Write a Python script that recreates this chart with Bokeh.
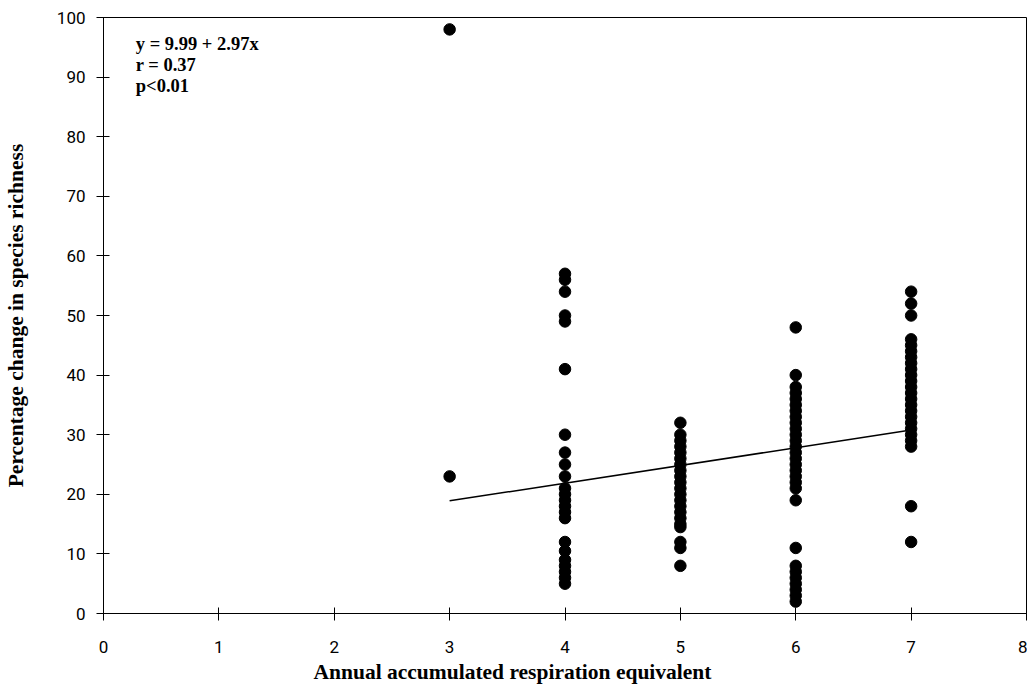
import numpy as np
from bokeh.plotting import figure
from bokeh.models import Range1d, Label, FixedTicker, ColumnDataSource, Title
from bokeh.embed import file_html
from bokeh.resources import INLINE

# ---- data ----
x_levels = [3, 4, 5, 6, 7]
y_at_3 = [98, 23]
y_at_4 = [57, 56, 54, 50, 49, 41, 30, 27, 25, 23, 21, 20, 19, 18, 17, 16,
          12, 10.5, 9, 8, 7, 6, 5]
y_at_5 = [32, 30, 29, 28, 27, 26, 25, 24, 23, 22, 21, 20, 19, 18, 17, 16,
          15, 14.5, 12, 11, 8]
y_at_6 = [48, 40, 38, 37, 36, 35, 34, 33, 32, 31, 30, 29, 28, 27, 26, 25,
          24, 23, 22, 21, 19, 11, 8, 7, 6, 5, 4, 3, 2]
y_at_7 = [54, 52, 50, 46, 45, 44, 43, 42, 41, 40, 39, 38, 37, 36, 35, 34,
          33, 32, 31, 30, 29, 28, 18, 12]
intercept = 9.99
slope = 2.97
fit_x = [3, 7]
stats_lines = ["y = 9.99 + 2.97x", "r = 0.37", "p<0.01"]
stats_y = [95.5, 92.0, 88.5]
x_ticks = [0, 1, 2, 3, 4, 5, 6, 7, 8]
y_ticks = [0, 10, 20, 30, 40, 50, 60, 70, 80, 90, 100]
x_title = "Annual accumulated respiration equivalent"
y_title = "Percentage change in species richness"

groups = [y_at_3, y_at_4, y_at_5, y_at_6, y_at_7]
xs, ys = [], []
for xv, g in zip(x_levels, groups):
    xs += [xv] * len(g)
    ys += list(g)
src = ColumnDataSource(dict(x=xs, y=ys))

p = figure(width=1027, height=687, output_backend="svg", toolbar_location=None,
           x_range=Range1d(0, 8), y_range=Range1d(0, 100),
           min_border_left=103, min_border_right=1, min_border_top=17,
           min_border_bottom=74)
p.outline_line_color = "black"
p.outline_line_width = 1
p.xgrid.visible = False
p.ygrid.visible = False
p.background_fill_color = "white"
p.border_fill_color = "white"

for ax in (p.xaxis[0], p.yaxis[0]):
    ax.axis_line_color = "black"
    ax.major_tick_line_color = "black"
    ax.minor_tick_line_color = None
    ax.major_tick_in = 6
    ax.major_tick_out = 7
    ax.major_label_text_font = "Roboto"
    ax.major_label_text_font_size = "17px"
    ax.major_label_text_color = "black"
p.xaxis.ticker = FixedTicker(ticks=x_ticks)
p.yaxis.ticker = FixedTicker(ticks=y_ticks)
p.xaxis.major_label_standoff = 20
p.yaxis.major_label_standoff = 11

p.yaxis.axis_label = y_title
p.yaxis.axis_label_standoff = 26
p.yaxis.axis_label_text_font = "Liberation Serif"
p.yaxis.axis_label_text_font_style = "bold"
p.yaxis.axis_label_text_font_size = "21.5px"
p.yaxis.axis_label_text_color = "black"

fit_y = [intercept + slope * v for v in fit_x]
p.line(fit_x, fit_y, line_color="black", line_width=1.5)
p.scatter("x", "y", source=src, size=11.5, color="black")

# stats text
for t, yy in zip(stats_lines, stats_y):
    p.add_layout(Label(x=0.28, y=yy, text=t,
                       text_font="Liberation Serif", text_font_style="bold",
                       text_font_size="18.5px", text_baseline="middle",
                       text_align="left", text_color="black"))

# x-axis title
p.add_layout(Title(text=x_title, align="left", offset=210, standoff=5,
                   text_font="Liberation Serif", text_font_style="bold",
                   text_font_size="21.5px", text_color="black"), "below")

open("out.html", "w").write(file_html(p, INLINE))
